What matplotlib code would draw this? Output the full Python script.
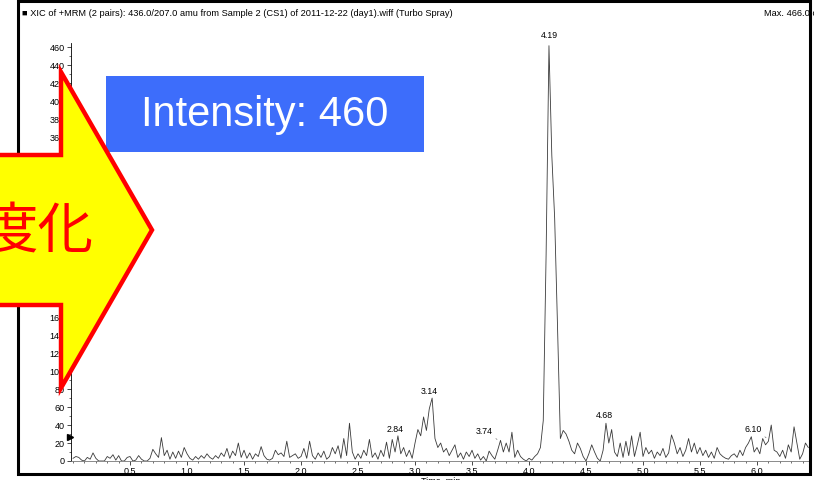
import numpy as np
import matplotlib
matplotlib.use("Agg")
import matplotlib.pyplot as plt
from matplotlib import patches
from matplotlib.ticker import MultipleLocator

# 크로마토그램 데이터 (0.025 min 간격으로 읽은 강도, cps)
dwell_min = 0.025
intensity = [
    3, 5, 4, 1, 0, 4, 2, 9, 3, 0, 0, 0, 5, 3, 7, 1, 6, 0, 0, 4,
    5, 0, 1, 6, 2, 0, 0, 3, 13, 8, 4, 26, 6, 12, 2, 10, 3, 11, 4, 15,
    8, 3, 1, 5, 2, 6, 3, 8, 4, 2, 6, 3, 9, 5, 14, 3, 11, 6, 20, 4,
    12, 3, 9, 2, 8, 5, 16, 6, 2, 1, 3, 12, 7, 9, 5, 22, 4, 6, 8, 3,
    5, 14, 3, 22, 6, 2, 9, 4, 11, 2, 5, 15, 8, 17, 3, 25, 6, 42, 10, 2,
    8, 3, 12, 6, 24, 4, 9, 2, 12, 5, 21, 3, 24, 10, 28, 8, 15, 5, 12, 3,
    20, 35, 28, 49, 34, 58, 70, 25, 15, 20, 10, 14, 6, 12, 18, 4, 9, 2, 10, 5,
    12, 3, 8, 1, 5, 0, 11, 6, 2, 12, 23, 10, 20, 10, 32, 4, 12, 5, 2, 0,
    3, 1, 5, 8, 15, 45, 230, 462, 340, 270, 150, 25, 34, 30, 22, 12, 8, 20, 14, 5,
    0, 8, 18, 10, 3, 0, 12, 42, 20, 35, 10, 5, 20, 4, 22, 6, 28, 5, 18, 32,
    5, 15, 8, 12, 3, 10, 6, 14, 4, 9, 29, 20, 8, 15, 5, 12, 25, 10, 20, 8,
    15, 6, 12, 4, 10, 3, 15, 8, 5, 3, 2, 6, 8, 4, 12, 6, 15, 20, 27, 10,
    15, 8, 25, 18, 22, 40, 12, 10, 5, 12, 3, 18, 10, 38, 20, 2, 8, 20, 15,
]
time_min = np.arange(len(intensity)) * dwell_min

# 피크 라벨 (라벨, 라벨 높이 cps)
peak_labels = ["2.84", "3.14", "3.74", "4.19", "4.68", "6.10"]
peak_heights = [30, 72, 28, 468, 46, 30]

title_text = "XIC of +MRM (2 pairs): 436.0/207.0 amu from Sample 2 (CS1) of 2011-12-22 (day1).wiff (Turbo Spray)"
max_text = "Max. 466.0 cps"
banner_text = "Intensity: 460"
arrow_text = "度化"

W, H = 814, 480
fig = plt.figure(figsize=(W / 100, H / 100), dpi=100)
fig.patch.set_facecolor("white")

# 1. 크로마토그램 축
ax = fig.add_axes([71 / W, 19 / H, 739 / W, 418 / H])
ax.plot(time_min, intensity, color="#3a3a3a", lw=0.6)
ax.set_xlim(-0.018, 6.465)
ax.set_ylim(0, 465)
for side in ("top", "right"):
    ax.spines[side].set_visible(False)
ax.spines["left"].set_linewidth(0.6)
ax.spines["bottom"].set_linewidth(0.6)
ax.spines["bottom"].set_color("#777777")
ax.xaxis.set_major_locator(MultipleLocator(0.5))
ax.xaxis.set_minor_locator(MultipleLocator(0.1))
ax.yaxis.set_major_locator(MultipleLocator(20))
ax.yaxis.set_minor_locator(MultipleLocator(10))
ax.tick_params(which="major", length=3, width=0.5, labelsize=6.5, pad=1.5)
ax.tick_params(which="minor", length=1.5, width=0.4)
xt = np.arange(0.5, 6.01, 0.5)
ax.set_xticks(xt)
ax.set_xticklabels([f"{v:.1f}" for v in xt], fontsize=6.5)
for lbl in ax.get_yticklabels() + ax.get_xticklabels():
    lbl.set_family("Liberation Sans")

# 피크 라벨
for lab, h in zip(peak_labels, peak_heights):
    t = float(lab)
    if lab in ("3.74", "6.10"):
        ax.annotate(lab, xy=(t - 0.02, h - 4), xytext=(t - 0.13, h),
                    fontsize=6.3, family="Liberation Sans", ha="center", va="bottom",
                    arrowprops=dict(arrowstyle="-", lw=0.4, color="#444444"),
                    annotation_clip=False)
    else:
        ax.text(t - 0.015, h, lab, fontsize=6.3, family="Liberation Sans",
                ha="center", va="bottom", clip_on=False)

# 2. 오버레이 (픽셀 좌표)
ov = fig.add_axes([0, 0, 1, 1], zorder=5)
ov.set_xlim(0, W)
ov.set_ylim(H, 0)
ov.axis("off")
ov.patch.set_alpha(0)

ov.add_patch(patches.Rectangle((18, 1), 792, 473, fill=False, lw=2.2, edgecolor="black"))
ov.text(22, 13, "■ " + title_text, fontsize=6.7, family=["Liberation Sans", "DejaVu Sans"],
        ha="left", va="center")
ov.text(764, 13, max_text, fontsize=6.7, family="Liberation Sans", ha="left", va="center")
ov.text(441, 481, "Time, min", fontsize=6.5, family="Liberation Sans", ha="center", va="center")
ov.plot([70], [437], marker=">", color="black", markersize=4)

# 파란 배너
ov.add_patch(patches.Rectangle((106, 76), 318, 76, facecolor="#3d6dfb", edgecolor="none"))
ov.text(265, 115, banner_text, fontsize=30, color="white", family="Liberation Sans",
        ha="center", va="center")

# 노란 화살표
arrow_pts = [(-20, 155), (61, 155), (61, 72), (152, 230), (61, 388), (61, 305), (-20, 305)]
ov.add_patch(patches.Polygon(arrow_pts, closed=True, facecolor="#ffff00",
                             edgecolor="#ff0000", lw=3.2, joinstyle="miter"))
ov.text(93, 232, arrow_text, fontsize=40, color="#ff0000",
        family=["Noto Sans CJK JP", "DejaVu Sans"], ha="right", va="center")

fig.savefig("out.png", dpi=100)
